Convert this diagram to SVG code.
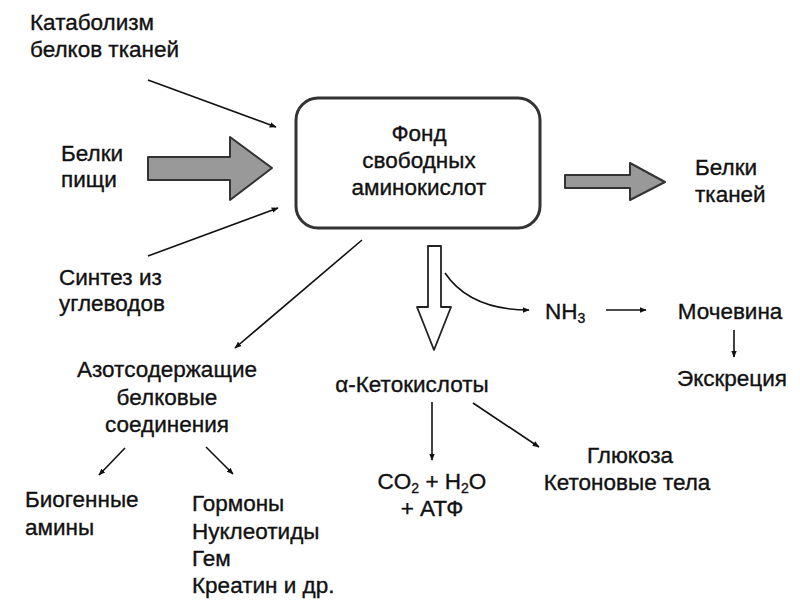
<svg xmlns="http://www.w3.org/2000/svg" width="800" height="600" viewBox="0 0 800 600">
<defs>
<marker id="ah" viewBox="0 0 10 10" refX="9" refY="5" markerWidth="7" markerHeight="7" orient="auto" markerUnits="userSpaceOnUse">
<path d="M0,1 L10,5 L0,9 Z" fill="#111"/>
</marker>
</defs>
<style>
text{font-family:"Liberation Sans",Arial,sans-serif;font-size:22.5px;fill:#111;stroke:#111;stroke-width:0.35}
.c{text-anchor:middle}
.ln{stroke:#111;stroke-width:1.6;fill:none;marker-end:url(#ah)}
.big{fill:#999;stroke:#333;stroke-width:2;stroke-linejoin:round}
.hol{fill:#fff;stroke:#222;stroke-width:1.8;stroke-linejoin:round}
</style>
<rect width="800" height="600" fill="#fff"/>

<g id="fond">
<rect x="296" y="98" width="244" height="130" rx="22" ry="22" fill="#fff" stroke="#333" stroke-width="3"/>
<text class="c" x="419" y="141">Фонд</text>
<text class="c" x="419" y="168">свободных</text>
<text class="c" x="419" y="195">аминокислот</text>
</g>
<g id="katabolizm">
<text x="30" y="30">Катаболизм</text>
<text x="30" y="57">белков тканей</text>
</g>
<g id="belki-pishchi">
<text x="61" y="161">Белки</text>
<text x="61" y="187">пищи</text>
</g>
<g id="sintez">
<text x="59" y="285">Синтез из</text>
<text x="59" y="311">углеводов</text>
</g>
<g id="belki-tkaney">
<text x="695" y="175">Белки</text>
<text x="695" y="202">тканей</text>
</g>
<g id="azot">
<text class="c" x="167" y="377">Азотсодержащие</text>
<text class="c" x="167" y="405">белковые</text>
<text class="c" x="167" y="432">соединения</text>
</g>
<g id="biogen">
<text x="25" y="507">Биогенные</text>
<text x="25" y="535">амины</text>
</g>
<g id="gormony">
<text x="192" y="511">Гормоны</text>
<text x="192" y="539">Нуклеотиды</text>
<text x="192" y="566">Гем</text>
<text x="192" y="593">Креатин и др.</text>
</g>
<g id="keto">
<text class="c" x="412" y="392">α-Кетокислоты</text>
</g>
<g id="co2">
<text class="c" x="432" y="489">CO<tspan font-size="14" dy="4">2</tspan><tspan dy="-4"> + H</tspan><tspan font-size="14" dy="4">2</tspan><tspan dy="-4">O</tspan></text>
<text class="c" x="432" y="516">+ АТФ</text>
</g>
<g id="glukoza">
<text class="c" x="630" y="463">Глюкоза</text>
<text class="c" x="627" y="490">Кетоновые тела</text>
</g>
<g id="nh3">
<text x="545" y="319">NH<tspan font-size="14" dy="4">3</tspan></text>
</g>
<g id="mochevina">
<text class="c" x="730" y="319">Мочевина</text>
</g>
<g id="ekskreciya">
<text class="c" x="732" y="386">Экскреция</text>
</g>

<g id="connectors">
<line class="ln" x1="148" y1="80" x2="276" y2="127"/>
<line class="ln" x1="148" y1="256" x2="278" y2="208"/>
<path class="big" d="M148,157 L230,157 L230,137 L272,168 L230,200 L230,180 L148,180 Z"/>
<path class="big" d="M565,175 L630,175 L630,163 L665,182 L630,200 L630,188 L565,188 Z"/>
<line class="ln" x1="362" y1="240" x2="235" y2="348"/>
<path class="hol" d="M428,246 L441,246 L441,307 L451,307 L434,350 L417,307 L428,307 Z"/>
<path class="ln" d="M445,273 Q470,310 529,310"/>
<line class="ln" x1="606" y1="310" x2="646" y2="310"/>
<line class="ln" x1="734" y1="330" x2="734" y2="357"/>
<line class="ln" x1="125" y1="448" x2="99" y2="475"/>
<line class="ln" x1="206" y1="447" x2="233" y2="474"/>
<line class="ln" x1="432" y1="402" x2="432" y2="460"/>
<line class="ln" x1="473" y1="403" x2="539" y2="447"/>
</g>
</svg>
